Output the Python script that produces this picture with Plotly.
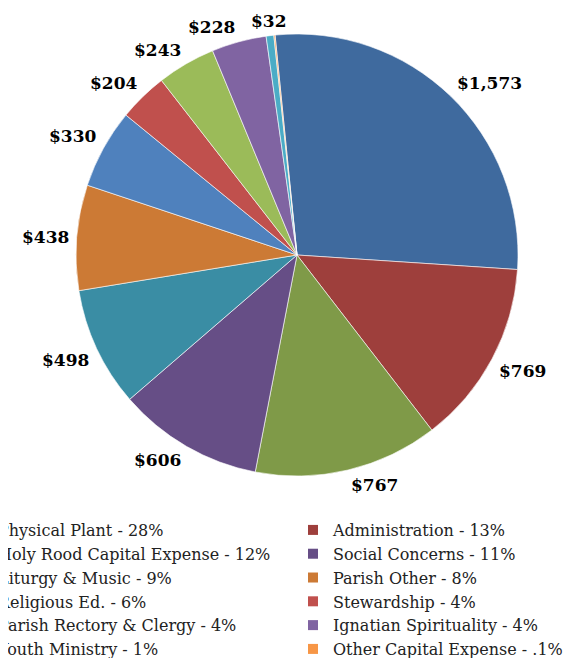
import math
import plotly.graph_objects as go

# Parish expenses (thousands), clockwise from the top
categories = [
    "Physical Plant - 28%",
    "Administration - 13%",
    "Holy Rood Capital Expense - 12%",
    "Social Concerns - 11%",
    "Liturgy & Music - 9%",
    "Parish Other - 8%",
    "Religious Ed. - 6%",
    "Stewardship - 4%",
    "Parish Rectory & Clergy - 4%",
    "Ignatian Spirituality - 4%",
    "Youth Ministry - 1%",
    "Other Capital Expense - .1%",
]
amounts = [1573, 769, 767, 606, 498, 438, 330, 204, 243, 228, 32, 5]
value_labels = ["$1,573", "$769", "$767", "$606", "$498", "$438",
                "$330", "$204", "$243", "$228", "$32", ""]

colors = ["#3F6A9E", "#9E3F3C", "#7F9A48", "#664E86", "#3A8DA4", "#CC7A35",
          "#4F81BD", "#C0504D", "#9BBB59", "#8064A2", "#4BACC6", "#F79646"]

W, H = 582, 658
cx, cy, r = 289, 247, 221      # pie centre / radius in figure pixels
rotation = -5.7

fig = go.Figure(go.Pie(
    labels=categories,
    values=amounts,
    textinfo="none",
    marker=dict(colors=colors, line=dict(color="white", width=0.6)),
    sort=False,
    direction="clockwise",
    rotation=rotation,
    showlegend=False,
    domain=dict(x=[(cx - r) / W, (cx + r) / W],
                y=[1 - (cy + r) / H, 1 - (cy - r) / H]),
))

# value labels just outside the rim, Excel style
total = sum(amounts)
cum = 0
gap = 6
for val, lab in zip(amounts, value_labels):
    mid = math.radians(rotation + 360 * (cum + val / 2) / total)
    cum += val
    if not lab:
        continue
    s, c = math.sin(mid), math.cos(mid)
    px = cx + (r + gap) * s
    py = cy - (r + gap) * c
    yanchor = "bottom" if c > 0.3 else "top" if c < -0.3 else "middle"
    # annotation boxes carry some line padding; pull them in a little
    if yanchor == "bottom":
        py += 3
    elif yanchor == "top":
        py -= 3
    fig.add_annotation(
        x=px / W, y=1 - py / H, xref="paper", yref="paper",
        text=f"<b>{lab}</b>", showarrow=False,
        xanchor="left" if s > 0.15 else "right" if s < -0.15 else "center",
        yanchor=yanchor,
        font=dict(family="DejaVu Serif", size=17, color="black"),
    )

# legend in two columns: even entries left, odd entries right
for i, (name, col) in enumerate(zip(categories, colors)):
    fig.add_trace(go.Scatter(
        x=[None], y=[None],
        mode="markers",
        name=name,
        marker=dict(symbol="square", size=10, color=col),
        legend="legend" if i % 2 == 0 else "legend2",
        hoverinfo="skip",
    ))

legend_font = dict(family="DejaVu Serif", size=16, color="#222222")

fig.update_layout(
    width=W,
    height=H,
    margin=dict(l=0, r=0, t=0, b=0, autoexpand=False),
    paper_bgcolor="white",
    plot_bgcolor="white",
    xaxis=dict(visible=False),
    yaxis=dict(visible=False),
    legend=dict(
        x=-50 / W, xanchor="left",
        y=0.2325, yanchor="top",
        font=legend_font,
        itemclick=False,
        bgcolor="rgba(0,0,0,0)",
    ),
    legend2=dict(
        x=285 / W, xanchor="left",
        y=0.2325, yanchor="top",
        font=legend_font,
        itemclick=False,
        bgcolor="rgba(0,0,0,0)",
    ),
)

fig.write_html("out.html")
